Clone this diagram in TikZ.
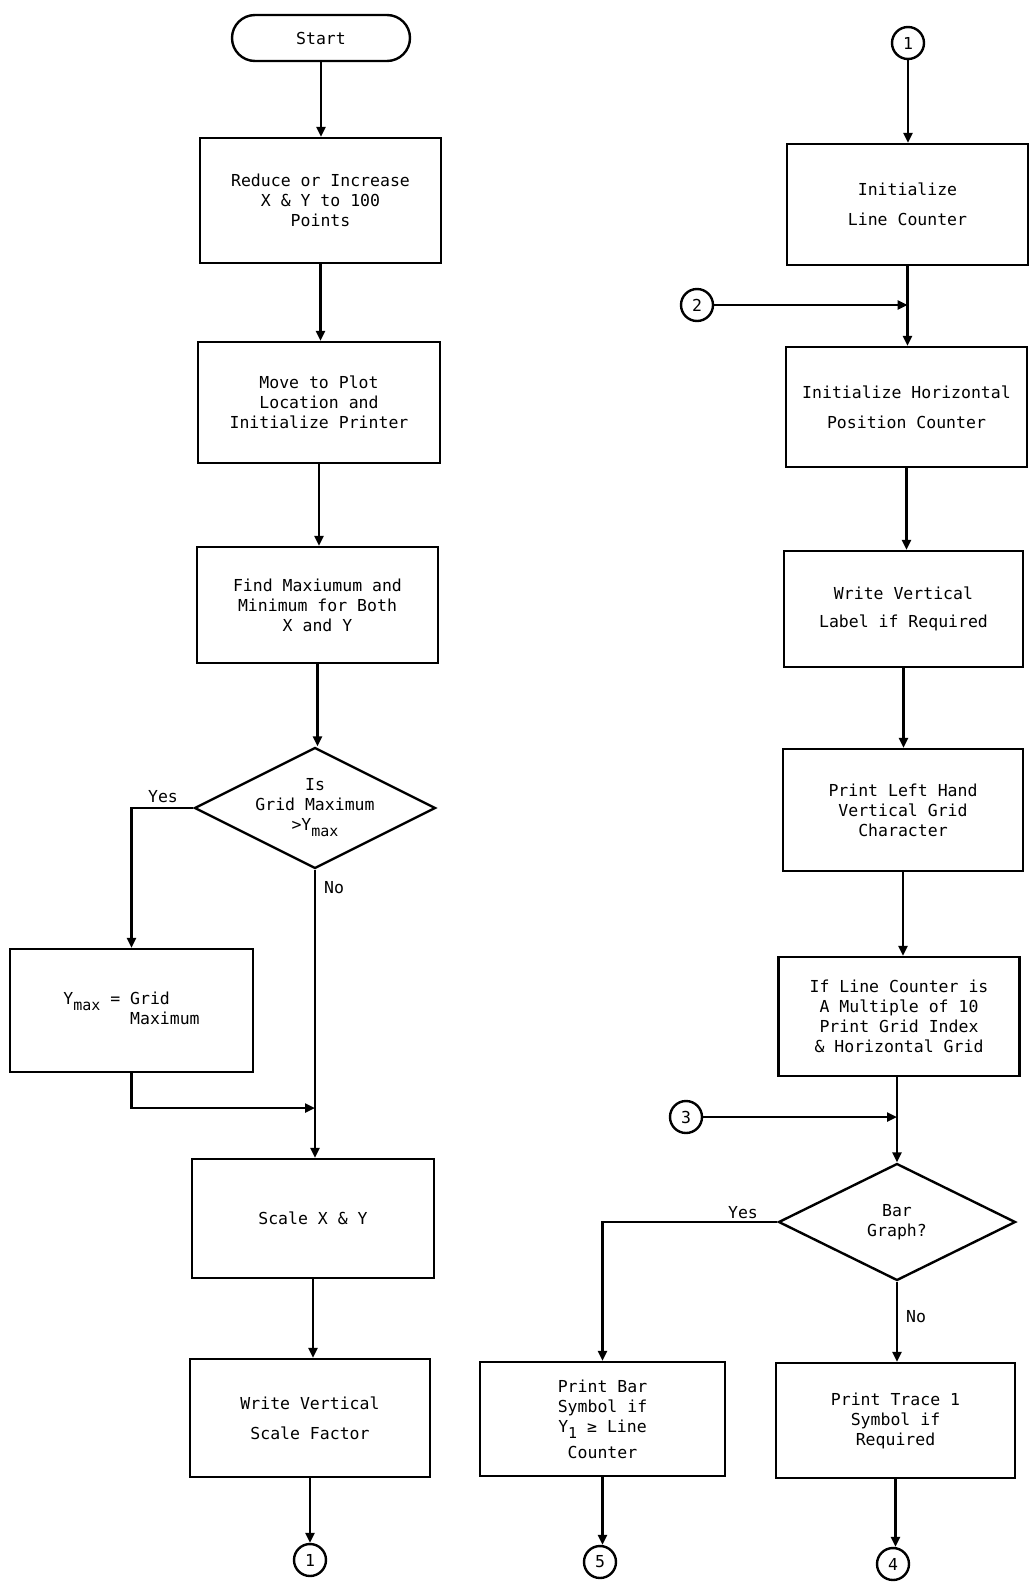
\documentclass[tikz,border=0pt]{standalone}
\usepackage{fontspec}
\setmonofont{DejaVu Sans Mono}
\usetikzlibrary{shapes.geometric,arrows.meta}
\newcommand\lowsub[1]{\raisebox{-3pt}{\fontsize{7.5}{8}\selectfont #1}}
\begin{document}
\begin{tikzpicture}[x=0.5pt,y=-0.5pt,
  every node/.style={font=\ttfamily\fontsize{8.25}{10}\selectfont},
  box/.style={draw, line width=1.2pt, inner sep=0pt, align=center},
  term/.style={draw, line width=1.2pt, rounded corners=11.5pt, inner sep=0pt, minimum width=89pt, minimum height=23pt},
  dec/.style={draw, diamond, line width=1.2pt, inner sep=0pt, align=center, shape aspect=2},
  conn/.style={draw, circle, line width=1.2pt, inner sep=0pt, minimum size=16pt},
  flow/.style={line width=1.2pt, -{Triangle[length=5pt,width=4.5pt]}},
  plain/.style={line width=1.2pt},
  lbl/.style={inner sep=1pt}
]
\useasboundingbox[fill=white] (0,0) rectangle (1029,1585);

% left column
\node[term] (start) at (321,38) {Start};
\node[box, minimum width=120.5pt, minimum height=62.5pt] (b1) at (320.5,200.5)
  {Reduce or Increase\\X \& Y to 100\\Points};
\node[box, minimum width=121pt, minimum height=60.5pt] (b2) at (319,402.5)
  {Move to Plot\\Location and\\Initialize Printer};
\node[box, minimum width=120.5pt, minimum height=58pt] (b3) at (317.5,605)
  {Find Maxiumum and\\Minimum for Both\\X and Y};
\node[dec, minimum width=120.5pt, minimum height=60.5pt] (d1) at (315,808)
  {Is\\Grid Maximum\\>Y\lowsub{max}};
\node[box, minimum width=121.5pt, minimum height=61.5pt] (ybox) at (131.5,1010.5)
  {Y\lowsub{max} = \begin{tabular}[t]{@{}l@{}}Grid\\Maximum\end{tabular}};
\node[box, minimum width=121pt, minimum height=59.5pt] (scale) at (313,1218.5)
  {Scale X \& Y};
\node[box, minimum width=120pt, minimum height=59pt] (write) at (310,1418)
  {Write Vertical\\[5pt]Scale Factor};
\node[conn] (c1out) at (310,1560) {1};

\node[lbl] (yes1) at (163,797) {Yes};
\node[lbl] (no1) at (334,888) {No};

% right column
\node[conn] (c1in) at (908,43) {1};
\node[box, minimum width=120.5pt, minimum height=60.5pt] (r1) at (907.5,204.5)
  {Initialize\\[5pt]Line Counter};
\node[conn] (c2) at (697,305) {2};
\node[box, minimum width=120.5pt, minimum height=60pt] (r2) at (906.5,407)
  {Initialize Horizontal\\[5pt]Position Counter};
\node[box, minimum width=119.5pt, minimum height=58pt] (r3) at (903.5,609)
  {Write Vertical\\[4pt]Label if Required};
\node[box, minimum width=120pt, minimum height=61pt] (r4) at (903,810)
  {Print Left Hand\\Vertical Grid\\Character};
\node[box, minimum width=120.5pt, minimum height=59.5pt] (r5) at (899,1016.5)
  {If Line Counter is\\A Multiple of 10\\Print Grid Index\\\& Horizontal Grid};
\node[conn] (c3) at (686,1117) {3};
\node[dec, minimum width=118.5pt, minimum height=58.5pt] (d2) at (897,1222)
  {Bar\\Graph?};
\node[box, minimum width=122.5pt, minimum height=57pt] (bar) at (602.5,1419)
  {Print Bar\\Symbol if\\Y\lowsub{1} ≥ Line\\[3pt]Counter};
\node[box, minimum width=119.5pt, minimum height=57.5pt] (trace) at (895.5,1420.5)
  {Print Trace 1\\Symbol if\\Required};
\node[conn] (c5) at (600,1562) {5};
\node[conn] (c4) at (893,1564) {4};

\node[lbl] (yes2) at (743,1213) {Yes};
\node[lbl] (no2) at (916,1317) {No};

% junctions
\coordinate (j1) at (315,1108);
\coordinate (j2) at (907.5,305);
\coordinate (j3) at (897,1117);

% left connectors
\draw[flow] (start.south) -- (start.south |- b1.north);
\draw[flow] (b1.south) -- (b1.south |- b2.north);
\draw[flow] (b2.south) -- (b2.south |- b3.north);
\draw[flow] (b3.south) -- (b3.south |- d1.north);
\draw[flow] (d1.west) -| (ybox.north);
\draw[plain] (d1.south) -- (j1);
\draw[flow] (ybox.south) |- (j1);
\draw[flow] (j1) -- (j1 |- scale.north);
\draw[flow] (scale.south) -- (scale.south |- write.north);
\draw[flow] (write.south) -- (c1out.north);

% right connectors
\draw[flow] (c1in.south) -- (c1in.south |- r1.north);
\draw[plain] (r1.south) -- (j2);
\draw[flow] (c2) -- (j2);
\draw[flow] (j2) -- (j2 |- r2.north);
\draw[flow] (r2.south) -- (r2.south |- r3.north);
\draw[flow] (r3.south) -- (r3.south |- r4.north);
\draw[flow] (r4.south) -- (r4.south |- r5.north);
\draw[plain] (r5.south -| j3) -- (j3);
\draw[flow] (c3) -- (j3);
\draw[flow] (j3) -- (d2.north);
\draw[flow] (d2.west) -| (bar.north);
\draw[flow] (d2.south) -- (d2.south |- trace.north);
\draw[flow] (bar.south) -- (bar.south |- c5.north);
\draw[flow] (trace.south) -- (trace.south |- c4.north);
\end{tikzpicture}
\end{document}
